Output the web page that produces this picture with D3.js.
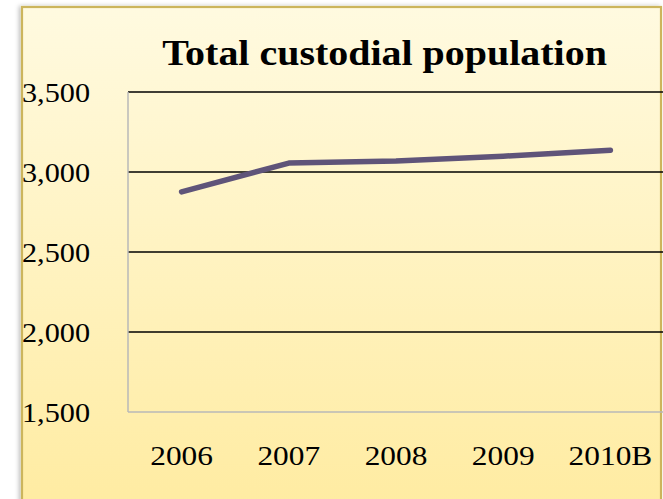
<!DOCTYPE html>
<html><head><meta charset="utf-8">
<script src="https://cdn.jsdelivr.net/npm/d3@7"></script>
<style>html,body{margin:0;padding:0;background:#fff;overflow:hidden}</style>
</head><body>
<svg id="c" width="663" height="499"></svg>
<script>
const categories = ["2006", "2007", "2008", "2009", "2010B"];
const population = [2876, 3056, 3069, 3099, 3136];
const yTicks = [1500, 2000, 2500, 3000, 3500];
const title = "Total custodial population";

const svg = d3.select("#c");
const W = 663, H = 499;
const defs = svg.append("defs");
const grad = defs.append("linearGradient").attr("id", "bg").attr("x1", 0).attr("y1", 0).attr("x2", 0).attr("y2", 1);
grad.append("stop").attr("offset", "0%").attr("stop-color", "#fffae0");
grad.append("stop").attr("offset", "100%").attr("stop-color", "#ffeb9f");
const sh = defs.append("filter").attr("id", "sh").attr("x", "-5%").attr("y", "-5%").attr("width", "110%").attr("height", "110%");
sh.append("feDropShadow").attr("dx", -2).attr("dy", 0).attr("stdDeviation", 2).attr("flood-color", "#000").attr("flood-opacity", 0.25);

// frame
svg.append("rect").attr("x", 22).attr("y", 7).attr("width", 639).attr("height", 520)
  .attr("fill", "url(#bg)").attr("stroke", "#ccb55c").attr("stroke-width", 2.2).attr("filter", "url(#sh)");

const m = {left: 128, right: 663, top: 92, bottom: 412};
const x = d3.scaleBand().domain(categories).range([m.left, m.right + 1]);
const y = d3.scaleLinear().domain([1500, 3500]).range([m.bottom, m.top]);

// gridlines
svg.append("g").selectAll("line").data(yTicks.filter(d => d > 1500)).join("line")
  .attr("x1", m.left).attr("x2", W).attr("y1", d => y(d)).attr("y2", d => y(d))
  .attr("stroke", "#000").attr("stroke-width", 1.5);

// axes lines
svg.append("line").attr("x1", m.left).attr("x2", m.left).attr("y1", m.top).attr("y2", m.bottom)
  .attr("stroke", "#b8b8b8").attr("stroke-width", 1.5);
svg.append("line").attr("x1", m.left).attr("x2", W).attr("y1", m.bottom).attr("y2", m.bottom)
  .attr("stroke", "#b8b8b8").attr("stroke-width", 1.5);

const font = "'Palatino Linotype','Book Antiqua',Palatino,'Liberation Serif',serif";

// y labels
const fmt = d3.format(",");
svg.append("g").selectAll("text").data(yTicks).join("text")
  .attr("transform", d => `translate(90,${y(d)}) scale(1.08,1)`).attr("dy", "0.35em")
  .attr("text-anchor", "end").attr("font-family", font).attr("font-size", 28)
  .attr("fill", "#000").text(d => fmt(d));

// x labels
svg.append("g").selectAll("text").data(categories).join("text")
  .attr("transform", d => `translate(${x(d) + x.bandwidth() / 2},455) scale(1.12,1)`).attr("dy", "0.35em")
  .attr("text-anchor", "middle").attr("font-family", font).attr("font-size", 28)
  .attr("fill", "#000").text(d => d);

// line
const line = d3.line().x((d, i) => x(categories[i]) + x.bandwidth() / 2).y(d => y(d));
svg.append("path").datum(population).attr("d", line)
  .attr("fill", "none").attr("stroke", "#5f5479").attr("stroke-width", 5.5)
  .attr("stroke-linecap", "round").attr("stroke-linejoin", "round");

// title
svg.append("text").attr("transform", `translate(384.5,52) scale(1.11,1)`).attr("dy", "0.35em")
  .attr("text-anchor", "middle").attr("font-family", font).attr("font-weight", "bold")
  .attr("font-size", 36).attr("fill", "#000").text(title);
</script>
</body></html>
